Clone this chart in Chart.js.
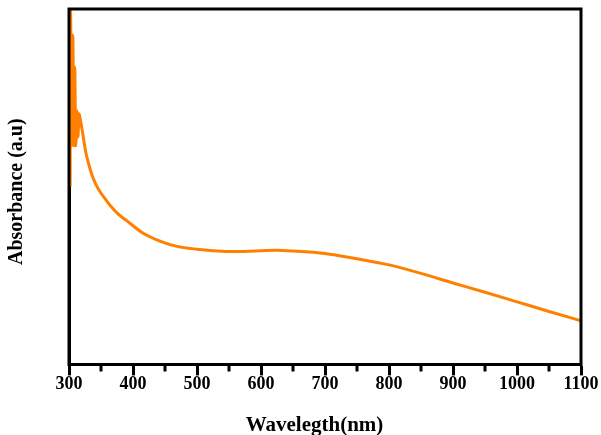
<!DOCTYPE html>
<html>
<head>
<meta charset="utf-8">
<script src="https://cdn.jsdelivr.net/npm/chart.js@4/dist/chart.umd.min.js"></script>
<style>
html,body{margin:0;padding:0;background:#fff;}
#wrap{width:601px;height:435px;}
</style>
</head>
<body>
<div id="wrap"><canvas id="c" width="601" height="435"></canvas></div>
<script>
// Wavelength (nm)
const wavelengths = [301.8, 302.3, 304.5, 306, 307.5, 309, 310.5, 312.5, 314, 315.6, 317.5, 320, 323, 326.5, 330, 335, 341, 348, 356, 364, 377, 391, 416, 442, 469, 500, 525, 550, 575, 600, 625, 650, 700, 750, 800, 850, 900, 950, 1000, 1050, 1100];
// Absorbance (a.u), relative units
const absorbance = [50, 99.7, 61.5, 92.6, 61.5, 83.6, 61.5, 71.4, 64, 70.5, 69.1, 66.6, 63.2, 59.5, 56.9, 53.8, 51.0, 48.7, 46.7, 44.8, 42.3, 40.3, 36.9, 34.7, 33.2, 32.4, 32.0, 31.8, 31.8, 32.0, 32.1, 31.9, 31.2, 29.7, 28.0, 25.6, 22.9, 20.3, 17.6, 14.9, 12.3];
const xTicks = [300, 400, 500, 600, 700, 800, 900, 1000, 1100];
const minorTicks = [350, 450, 550, 650, 750, 850, 950, 1050];

const points = wavelengths.map((w, i) => ({x: w, y: absorbance[i]}));

const frame = {
  id: 'frame',
  afterDraw(chart) {
    const {ctx, chartArea: a, scales: {x}} = chart;
    ctx.save();
    ctx.strokeStyle = '#000';
    ctx.lineWidth = 3;
    ctx.beginPath();
    ctx.rect(a.left, a.top, a.right - a.left, a.bottom - a.top);
    ctx.stroke();
    ctx.beginPath();
    minorTicks.forEach(v => {
      const px = x.getPixelForValue(v);
      ctx.moveTo(px, a.bottom);
      ctx.lineTo(px, a.bottom + 7);
    });
    ctx.stroke();
    ctx.restore();
  }
};

const serif = '"Liberation Serif", "Times New Roman", serif';

new Chart(document.getElementById('c'), {
  type: 'line',
  data: {
    datasets: [{
      data: points,
      borderColor: '#FF8000',
      borderWidth: 3,
      pointRadius: 0,
      cubicInterpolationMode: 'monotone',
      fill: false
    }]
  },
  options: {
    responsive: false,
    animation: false,
    events: [],
    layout: {autoPadding: false, padding: {left: 1, right: 20, top: 9, bottom: 0}},
    plugins: {legend: {display: false}, tooltip: {enabled: false}},
    scales: {
      x: {
        type: 'linear',
        min: 300, max: 1100,
        afterBuildTicks: s => { s.ticks = xTicks.map(v => ({value: v})); },
        ticks: {
          color: '#000',
          padding: -2,
          callback: v => String(v),
          font: {family: serif, size: 18, weight: 'bold'}
        },
        grid: {display: true, drawOnChartArea: false, drawTicks: true, tickLength: 11, tickWidth: 3, tickColor: '#000'},
        border: {display: true, color: '#000', width: 3},
        title: {
          display: true, text: 'Wavelegth(nm)\u00A0\u00A0\u00A0\u00A0', color: '#000',
          font: {family: serif, size: 21, weight: 'bold', lineHeight: 1},
          padding: {top: 22, bottom: -1}
        }
      },
      y: {
        min: 0, max: 100,
        ticks: {display: false},
        grid: {display: false, drawTicks: false},
        border: {display: true, color: '#000', width: 3},
        title: {
          display: true, text: 'Absorbance (a.u)\u00A0\u00A0', color: '#000',
          font: {family: serif, size: 20, weight: 'bold', lineHeight: 1.2},
          padding: {top: 4, bottom: 40}
        }
      }
    }
  },
  plugins: [frame]
});
</script>
</body>
</html>
